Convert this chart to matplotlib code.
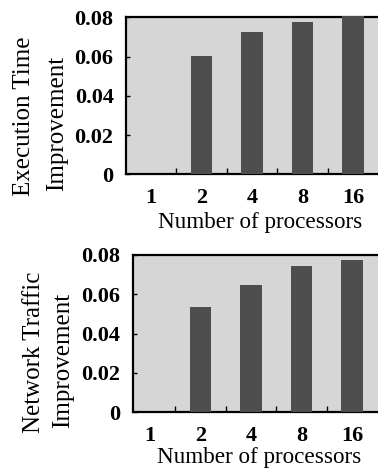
import matplotlib
matplotlib.use("Agg")
import matplotlib.pyplot as plt
from matplotlib.ticker import FixedLocator, FixedFormatter

processors = ["1", "2", "4", "8", "16"]
exec_time_improvement = [0.0, 0.0603, 0.0724, 0.0776, 0.0805]
network_traffic_improvement = [0.0, 0.0534, 0.0649, 0.0744, 0.0773]
y_ticks = [0, 0.02, 0.04, 0.06, 0.08]
y_tick_labels = ["0", "0.02", "0.04", "0.06", "0.08"]

plt.rcParams['font.family'] = ['Liberation Serif', 'DejaVu Serif']

W, H = 378, 475
fig = plt.figure(figsize=(W / 100, H / 100), dpi=100)

bg = "#d6d6d6"
bar_color = "#4e4e4e"


def px_axes(left, top, right, bottom):
    return fig.add_axes([left / W, 1 - bottom / H, (right - left) / W, (bottom - top) / H])


def draw_panel(ax, values, x0_px, left_px, spacing):
    x = list(range(len(processors)))
    ax.set_facecolor(bg)
    ax.bar(x, values, width=0.43, color=bar_color, linewidth=0,
           zorder=3, clip_on=False)
    ax.set_xlim((left_px - x0_px) / spacing, (W - x0_px) / spacing)
    ax.set_ylim(0, 0.08)
    ax.spines['right'].set_visible(False)
    for s in ['left', 'bottom', 'top']:
        ax.spines[s].set_linewidth(1.6)
    ax.xaxis.set_major_locator(FixedLocator(x))
    ax.xaxis.set_major_formatter(FixedFormatter(processors))
    ax.xaxis.set_minor_locator(FixedLocator([i + 0.5 for i in x[:-1]]))
    ax.tick_params(axis='x', which='major', length=0, pad=10,
                   labelsize=16)
    ax.tick_params(axis='x', which='minor', direction='in', length=4, width=1)
    ax.yaxis.set_major_locator(FixedLocator(y_ticks))
    ax.yaxis.set_major_formatter(FixedFormatter(y_tick_labels))
    ax.tick_params(axis='y', direction='in', length=3, width=1, pad=9,
                   labelsize=16)
    for lab in ax.get_xticklabels() + ax.get_yticklabels():
        lab.set_fontweight('bold')


ax1 = px_axes(126, 17.3, W, 174.3)
draw_panel(ax1, exec_time_improvement, 151, 126, 50.5)
ax2 = px_axes(133, 255, W, 412.3)
draw_panel(ax2, network_traffic_improvement, 150, 133, 50.5)

fs_y = 18
fig.text(24 / W, 1 - 116 / H, "Execution Time", rotation=90, ha='center', va='center', fontsize=fs_y)
fig.text(57 / W, 1 - 123 / H, "Improvement", rotation=90, ha='center', va='center', fontsize=fs_y)
fig.text(34 / W, 1 - 352 / H, "Network Traffic", rotation=90, ha='center', va='center', fontsize=fs_y)
fig.text(63 / W, 1 - 360 / H, "Improvement", rotation=90, ha='center', va='center', fontsize=fs_y)

fig.text(260 / W, 1 - 223 / H, "Number of processors", ha='center', va='center', fontsize=16.7)
fig.text(259 / W, 1 - 457 / H, "Number of processors", ha='center', va='center', fontsize=16.7)

fig.savefig("out.png", dpi=100)
